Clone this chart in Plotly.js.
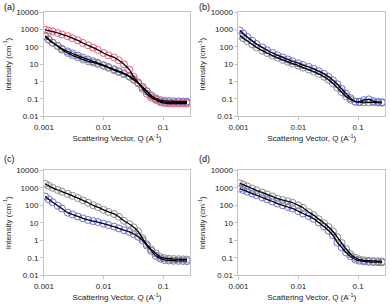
<!DOCTYPE html>
<html><head><meta charset="utf-8">
<script src="https://cdn.plot.ly/plotly-3.0.1.min.js"></script>
<style>html,body{margin:0;padding:0;background:#fff}#chart{width:390px;height:304px}</style>
</head><body><div id="chart"></div>
<script>
const Q = [0.00105,0.0012,0.0014,0.0017,0.002,0.0025,0.003,0.0037,0.0045,0.0055,0.0067,0.008,0.01,0.012,0.015,0.018,0.022,0.027,0.032,0.038,0.045,0.053,0.063,0.075,0.09,0.105,0.125,0.15,0.18,0.215,0.25];

const aRed  = [1000,870,780,640,530,420,320,240,170,125,92,68,45,33,25,17,10,5,1.9,0.9,0.38,0.2,0.12,0.088,0.065,0.058,0.055,0.055,0.055,0.055,0.055];
const aGray = [450,280,180,110,70,45,33,25,19,15,12.5,10.5,8,6.3,4.6,3.6,2.7,1.9,1.25,0.8,0.48,0.28,0.15,0.095,0.072,0.066,0.064,0.063,0.063,0.063,0.062];
const aBlue = [400,260,175,115,80,55,42,32,24,19,15,12,9,7,5.2,4,3,2.1,1.4,0.85,0.5,0.28,0.16,0.11,0.085,0.078,0.075,0.074,0.073,0.072,0.07];

const bBlue = [900,600,380,230,150,95,65,45,33,25,19,15,11.5,9,7,5.5,4,2.8,1.9,1.2,0.7,0.38,0.2,0.11,0.07,0.07,0.085,0.095,0.075,0.068,0.065];
const bGray = [450,320,220,140,95,62,45,32,24,18,14,11,8.5,6.5,5,3.8,2.8,1.9,1.3,0.8,0.45,0.25,0.14,0.09,0.07,0.065,0.065,0.064,0.063,0.062,0.06];

const cGray = [1700,1300,1000,750,600,450,350,260,190,140,100,78,55,42,32,22,13,8.5,5.5,3.2,1.3,0.6,0.3,0.18,0.11,0.095,0.088,0.085,0.083,0.082,0.08];
const cBlue = [320,220,150,95,65,38,30,23,18,14.5,12.5,11,9,7.5,6,4.8,3.8,3,2.3,1.6,1.0,0.5,0.25,0.13,0.09,0.075,0.07,0.068,0.067,0.066,0.065];

const dGray = [1800,1500,1200,900,720,540,420,320,240,200,170,140,100,72,40,28,16,9.5,5.8,3.2,1.5,0.7,0.32,0.16,0.1,0.08,0.072,0.068,0.066,0.064,0.062];
const dBlue = [900,750,600,470,380,280,220,165,125,100,80,66,46,34,24,17,10.5,6,3.6,1.9,0.75,0.4,0.2,0.12,0.08,0.068,0.062,0.059,0.057,0.056,0.055];

const yTicks = [0.01,0.1,1,10,100,1000,10000];
const yTickText = ['0.01','0.1','1','10','100','1000','10000'];
const xTicks = [0.001,0.01,0.1];
const xTickText = ['0.001','0.01','0.1'];
const panelLabels = ['(a)','(b)','(c)','(d)'];

const RED='#ee5d7a', BLUE='#6a6ee0', GRAY='#8c8c8c';

function dataTrace(y, color, ax){
  return {x:Q, y:y, xaxis:'x'+ax, yaxis:'y'+ax, mode:'markers', type:'scatter',
    marker:{symbol:'circle-open', size:7, color:color, line:{width:1, color:color}}, hoverinfo:'skip'};
}
function fitTrace(y, ax){
  return {x:Q, y:y, xaxis:'x'+ax, yaxis:'y'+ax, mode:'lines', type:'scatter',
    line:{color:'#000', width:1.3, shape:'spline'}, hoverinfo:'skip'};
}

const traces = [
  dataTrace(aBlue,BLUE,''), dataTrace(aGray,GRAY,''), dataTrace(aRed,RED,''),
  fitTrace(aBlue,''), fitTrace(aGray,''), fitTrace(aRed,''),
  dataTrace(bGray,GRAY,'2'), dataTrace(bBlue,BLUE,'2'),
  fitTrace(bGray,'2'), fitTrace(bBlue,'2'),
  dataTrace(cBlue,BLUE,'3'), dataTrace(cGray,GRAY,'3'),
  fitTrace(cBlue,'3'), fitTrace(cGray,'3'),
  dataTrace(dBlue,BLUE,'4'), dataTrace(dGray,GRAY,'4'),
  fitTrace(dBlue,'4'), fitTrace(dGray,'4')
];

const tickFont = {family:'Liberation Sans, Arial, sans-serif', size:8, color:'#222'};
function xAx(dom, anchor){
  return {type:'log', range:[-3,-0.55], domain:dom, anchor:anchor,
    tickvals:xTicks, ticktext:xTickText, tickfont:tickFont,
    showline:true, mirror:true, linecolor:'#c4c4c4', linewidth:1,
    ticks:'outside', ticklen:3, tickcolor:'#c4c4c4', showgrid:false, zeroline:false,
    title:{text:'Scattering Vector, Q (A<sup>-1</sup>)', font:tickFont, standoff:4}};
}
function yAx(dom, anchor){
  return {type:'log', range:[-2,4], domain:dom, anchor:anchor,
    tickvals:yTicks, ticktext:yTickText, tickfont:tickFont,
    showline:true, mirror:true, linecolor:'#c4c4c4', linewidth:1,
    ticks:'outside', ticklen:3, tickcolor:'#c4c4c4', showgrid:false, zeroline:false,
    title:{text:'Intensity (cm<sup>-1</sup>)', font:tickFont, standoff:3}};
}
const xL=[0.1128,0.4872], xR=[0.6115,0.9872], yT=[0.6174,0.9595], yB=[0.0944,0.4398];

const layout = {
  width:390, height:304, margin:{l:0,r:0,t:0,b:0}, showlegend:false,
  paper_bgcolor:'#fff', plot_bgcolor:'#fff',
  xaxis:xAx(xL,'y'), yaxis:yAx(yT,'x'),
  xaxis2:xAx(xR,'y2'), yaxis2:yAx(yT,'x2'),
  xaxis3:xAx(xL,'y3'), yaxis3:yAx(yB,'x3'),
  xaxis4:xAx(xR,'y4'), yaxis4:yAx(yB,'x4'),
  annotations:[
    {text:panelLabels[0], x:2/390, y:1-7/304},
    {text:panelLabels[1], x:197/390, y:1-7/304},
    {text:panelLabels[2], x:2/390, y:1-159/304},
    {text:panelLabels[3], x:197/390, y:1-159/304}
  ].map(a=>Object.assign(a,{xref:'paper',yref:'paper',xanchor:'left',yanchor:'middle',showarrow:false,
     font:{family:'Liberation Sans, Arial, sans-serif', size:9, color:'#111'}}))
};
Plotly.newPlot('chart', traces, layout, {staticPlot:true, displayModeBar:false});
</script></body></html>
